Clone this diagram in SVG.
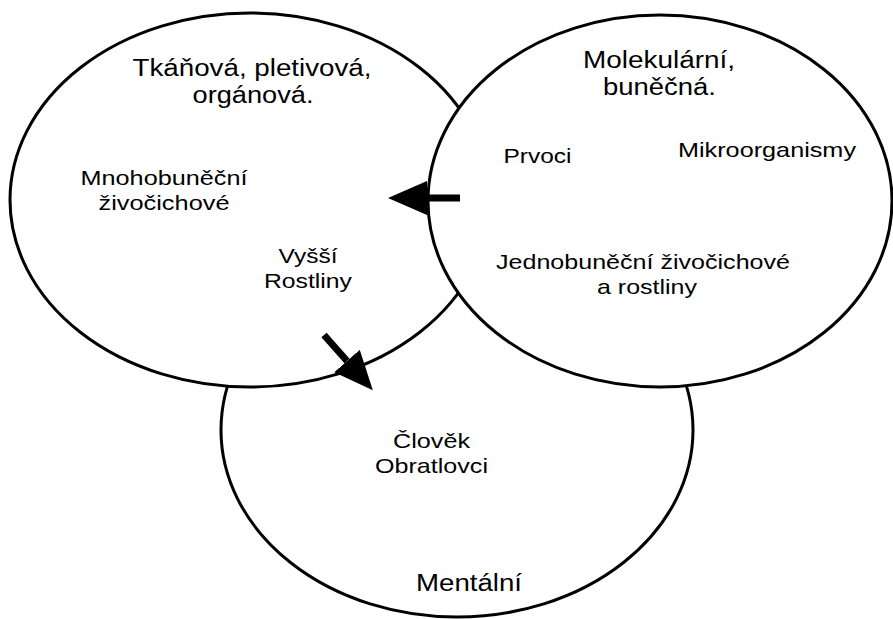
<svg xmlns="http://www.w3.org/2000/svg" width="893" height="619" viewBox="0 0 893 619">
<style>
.ell{fill:#fff;stroke:#000;stroke-width:3}
.t{font-family:"Liberation Sans",Arial,sans-serif;fill:#000;text-anchor:middle}
.ti{font-size:23px}
.in{font-size:21px}
.arr{stroke:#000;stroke-width:7;fill:none;marker-end:url(#head)}
</style>
<defs>
<marker id="head" markerUnits="userSpaceOnUse" markerWidth="40" markerHeight="34" refX="0" refY="17" orient="auto" viewBox="0 0 40 34">
<path d="M0,0 L39,17 L0,34 Z" fill="#000"/>
</marker>
</defs>
<g id="mental">
<ellipse class="ell" cx="457" cy="430" rx="236" ry="187"/>
<text class="t in" x="431.5" y="448" textLength="77" lengthAdjust="spacingAndGlyphs">Člověk</text>
<text class="t in" x="431.5" y="473" textLength="113" lengthAdjust="spacingAndGlyphs">Obratlovci</text>
<text class="t ti" x="469" y="591" textLength="106" lengthAdjust="spacingAndGlyphs">Mentální</text>
</g>
<g id="tkanova">
<ellipse class="ell" cx="250" cy="200" rx="240" ry="187"/>
<text class="t ti" x="252" y="76" textLength="239" lengthAdjust="spacingAndGlyphs">Tkáňová, pletivová,</text>
<text class="t ti" x="253" y="103" textLength="121" lengthAdjust="spacingAndGlyphs">orgánová.</text>
<text class="t in" x="164" y="185" textLength="167" lengthAdjust="spacingAndGlyphs">Mnohobuněční</text>
<text class="t in" x="164" y="210" textLength="131" lengthAdjust="spacingAndGlyphs">živočichové</text>
<text class="t in" x="308" y="263" textLength="59" lengthAdjust="spacingAndGlyphs">Vyšší</text>
<text class="t in" x="308" y="288" textLength="88" lengthAdjust="spacingAndGlyphs">Rostliny</text>
</g>
<g id="molekularni">
<ellipse class="ell" cx="660" cy="201" rx="232" ry="186"/>
<text class="t ti" x="659" y="68" textLength="152" lengthAdjust="spacingAndGlyphs">Molekulární,</text>
<text class="t ti" x="659.5" y="95" textLength="113" lengthAdjust="spacingAndGlyphs">buněčná.</text>
<text class="t in" x="537.5" y="163" textLength="68" lengthAdjust="spacingAndGlyphs">Prvoci</text>
<text class="t in" x="767" y="157" textLength="178" lengthAdjust="spacingAndGlyphs">Mikroorganismy</text>
<text class="t in" x="643" y="269" textLength="294" lengthAdjust="spacingAndGlyphs">Jednobuněční živočichové</text>
<text class="t in" x="647" y="294" textLength="100" lengthAdjust="spacingAndGlyphs">a rostliny</text>
</g>
<g id="connectors">
<line class="arr" x1="460" y1="198" x2="427" y2="198"/>
<line class="arr" x1="324" y1="335" x2="347" y2="361"/>
</g>
</svg>
